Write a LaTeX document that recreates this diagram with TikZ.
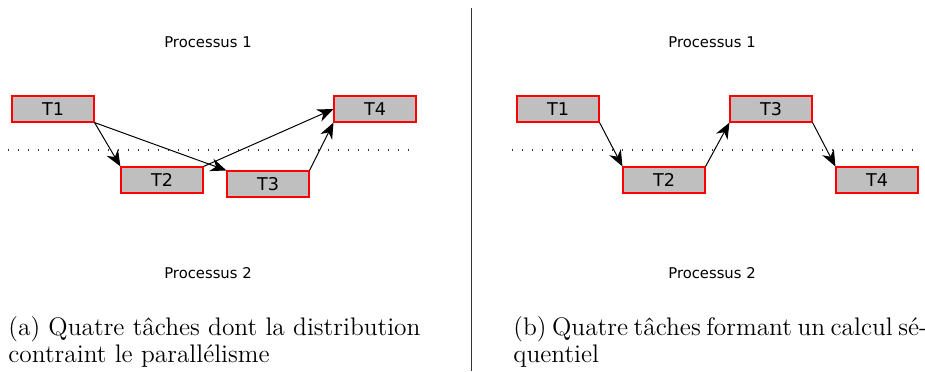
\documentclass[tikz,border=0pt]{standalone}
\usepackage{fontspec}
\newfontfamily\boxfont{DejaVu Sans}
\usetikzlibrary{positioning, arrows.meta, calc}

\tikzset{
  taskbox/.style={draw=red, fill=black!25, line width=0.55pt, minimum width=41pt,
    minimum height=13pt, inner sep=0pt, font=\boxfont\fontsize{8.8}{9}\selectfont},
  proclabel/.style={font=\boxfont\fontsize{7.4}{8}\selectfont},
  dep/.style={line width=0.5pt, -{Stealth[length=8pt, width=6.5pt, inset=2.5pt]}},
  sep/.style={line width=0.6pt, dash pattern=on 0.6pt off 4.4pt, black!80},
  caption/.style={anchor=north west, inner sep=0pt, align=left,
    font=\fontsize{12.7}{13.5}\selectfont}
}

\begin{document}
\begin{tikzpicture}[x=0.5pt, y=-0.5pt]
\useasboundingbox (0,0) rectangle (925,371);

% (a) distribution contrainte
\node[proclabel] (pa1) at (208,42) {Processus 1};
\node[proclabel] (pa2) at (208,273) {Processus 2};
\draw[sep] (8,150) -- (416,150);

\node[taskbox] (a1) at (53,109) {T1};
\node[taskbox] (a2) at (162,180) {T2};
\node[taskbox] (a3) at (268,184) {T3};
\node[taskbox] (a4) at (375,109) {T4};

\draw[dep] (a1.south east) -- (a2.north west);
\draw[dep] (a1.south east) -- (a3.north west);
\draw[dep] (a2.north east) -- (a4.west);
\draw[dep] (a3.north east) -- (a4.south west);

\node[caption] (capa) at (8,316) {(a) Quatre tâches dont la distribution\\contraint le parallélisme};

% separateur
\draw[line width=0.5pt, black!80] (471,8) -- (471,371);

% (b) calcul sequentiel
\node[proclabel] (pb1) at (712,42) {Processus 1};
\node[proclabel] (pb2) at (712,273) {Processus 2};
\draw[sep] (512,150) -- (920,150);

\node[taskbox] (b1) at (558,109) {T1};
\node[taskbox] (b2) at (664,180) {T2};
\node[taskbox] (b3) at (771,109) {T3};
\node[taskbox] (b4) at (877,180) {T4};

\draw[dep] (b1.south east) -- (b2.north west);
\draw[dep] (b2.north east) -- (b3.south west);
\draw[dep] (b3.south east) -- (b4.north west);

\node[caption] (capb) at (513,316) {\makebox[203.5pt][s]{(b) Quatre tâches formant un calcul sé-}\\quentiel};
\end{tikzpicture}
\end{document}
